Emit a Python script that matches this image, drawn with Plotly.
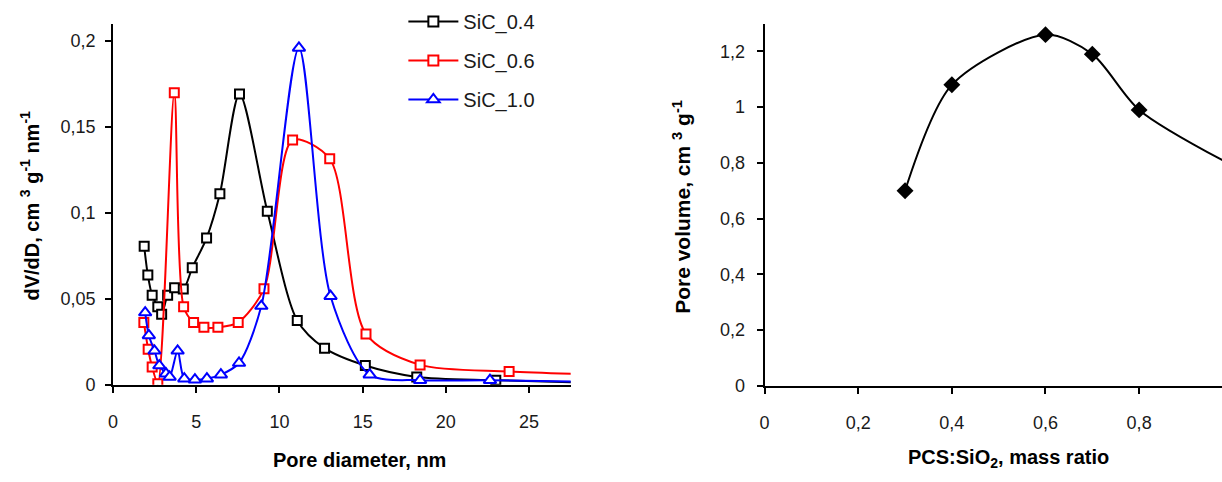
import plotly.graph_objects as go

# ---- Left panel: pore size distributions ----
pore_d_04 = [1.87, 2.09, 2.35, 2.69, 2.92, 3.28, 3.70, 4.22, 4.76, 5.62, 6.42, 7.60, 9.27, 11.07, 12.71, 15.16, 18.25, 23.0, 30.0]
dvdd_04 = [0.0805, 0.0638, 0.052, 0.0454, 0.041, 0.052, 0.0564, 0.0557, 0.068, 0.0853, 0.111, 0.169, 0.1009, 0.0374, 0.0213, 0.0112, 0.0046, 0.0027, 0.0008]

pore_d_06 = [1.85, 2.11, 2.35, 2.69, 3.68, 4.24, 4.84, 5.46, 6.30, 7.52, 9.07, 10.79, 13.02, 15.20, 18.45, 23.8, 30.0]
dvdd_06 = [0.0363, 0.0207, 0.0103, 0.0007, 0.1698, 0.0454, 0.0363, 0.0334, 0.0334, 0.0363, 0.0558, 0.1423, 0.1314, 0.0296, 0.0116, 0.0078, 0.0058]

pore_d_10 = [1.93, 2.15, 2.49, 2.78, 3.18, 3.40, 3.88, 4.28, 4.92, 5.64, 6.48, 7.57, 8.91, 11.17, 13.07, 15.42, 18.45, 22.65, 30.0]
dvdd_10 = [0.042, 0.0287, 0.0198, 0.0112, 0.0065, 0.0046, 0.0198, 0.0036, 0.003, 0.0036, 0.0059, 0.0127, 0.0458, 0.1958, 0.0515, 0.0059, 0.0027, 0.0027, 0.0015]

series_names = ["SiC_0.4", "SiC_0.6", "SiC_1.0"]
series_colors = ["#000000", "#ff0000", "#0000ff"]
series_symbols = ["square", "square", "triangle-up"]

# ---- Right panel: pore volume vs mass ratio ----
mass_ratio = [0.3, 0.4, 0.6, 0.7, 0.8, 1.0]
pore_volume = [0.70, 1.08, 1.26, 1.19, 0.99, 0.79]

W, H = 1222, 482

def px_x(p):
    return p / W

def px_y(p):
    return (H - p) / H

fig = go.Figure()

data_left = [(pore_d_04, dvdd_04), (pore_d_06, dvdd_06), (pore_d_10, dvdd_10)]
for (xs, ys), name, col, sym in zip(data_left, series_names, series_colors, series_symbols):
    msize = 11 if sym == "triangle-up" else 9
    fig.add_trace(go.Scatter(
        x=xs, y=ys, mode="lines+markers", name=name, showlegend=False,
        line=dict(color=col, width=2, shape="spline", smoothing=0.8),
        marker=dict(symbol=sym, size=msize, color="white", line=dict(color=col, width=2)),
        xaxis="x", yaxis="y", cliponaxis=True,
    ))

for name, col, sym in zip(series_names, series_colors, series_symbols):
    msize = 11 if sym == "triangle-up" else 10
    fig.add_trace(go.Scatter(
        x=[None], y=[None], mode="lines+markers", name=name, showlegend=True,
        legendgroup=name,
        line=dict(color=col, width=2),
        marker=dict(symbol=sym, size=msize, color="white", line=dict(color=col, width=2)),
        xaxis="x", yaxis="y",
    ))

fig.add_trace(go.Scatter(
    x=mass_ratio, y=pore_volume, mode="lines+markers", showlegend=False,
    line=dict(color="black", width=2, shape="spline", smoothing=0.8),
    marker=dict(symbol="diamond", size=13, color="black"),
    xaxis="x2", yaxis="y2", cliponaxis=True,
))

FONT = "Liberation Sans, Arial, sans-serif"
tickfont = dict(family=FONT, size=18, color="#1a1a1a")
axis_common = dict(
    showline=True, linecolor="black", linewidth=2, mirror=False,
    ticks="outside", ticklen=6, tickwidth=2, tickcolor="black",
    showgrid=False, zeroline=False, tickfont=tickfont,
)

fig.update_layout(
    width=W, height=H, autosize=False,
    margin=dict(l=0, r=0, t=0, b=0),
    paper_bgcolor="white", plot_bgcolor="white",
    separators=", ",
    xaxis=dict(domain=[px_x(108.5), px_x(568)], range=[0, 27.5], dtick=5, tick0=0,
               anchor="y", ticklabelstandoff=14, **axis_common),
    yaxis=dict(domain=[px_y(393), px_y(24)], range=[0, 0.21], dtick=0.05, tick0=0,
               anchor="x", ticklabelstandoff=6, **axis_common),
    xaxis2=dict(domain=[px_x(762.7), 1.0], range=[0, 0.977], dtick=0.2, tick0=0,
                anchor="y2", ticklabelstandoff=14, **axis_common),
    yaxis2=dict(domain=[px_y(394), px_y(24)], range=[0, 1.3], dtick=0.2, tick0=0,
                anchor="x2", ticklabelstandoff=8, **axis_common),
    legend=dict(
        x=px_x(400), y=px_y(2), xanchor="left", yanchor="top",
        font=dict(family=FONT, size=20, color="#1a1a1a"),
        bgcolor="rgba(0,0,0,0)", tracegroupgap=10, itemwidth=50,
    ),
    showlegend=True,
)

title_font = dict(family=FONT, size=20, color="black")
fig.add_annotation(text="<b>Pore diameter, nm</b>", xref="paper", yref="paper",
                   x=px_x(356), y=px_y(470), showarrow=False, font=title_font,
                   xanchor="center", yanchor="middle")
fig.add_annotation(text="<b>dV/dD, cm <sup>3</sup> g<sup>-1</sup> nm<sup>-1</sup></b>",
                   xref="paper", yref="paper", x=px_x(25), y=px_y(210), textangle=-90,
                   showarrow=False, font=title_font, xanchor="center", yanchor="middle")
fig.add_annotation(text="<b>Pore volume, cm <sup>3</sup> g<sup>-1</sup></b>",
                   xref="paper", yref="paper", x=px_x(679), y=px_y(211), textangle=-90,
                   showarrow=False, font=dict(family=FONT, size=21, color="black"),
                   xanchor="center", yanchor="middle")
fig.add_annotation(text="<b>PCS:SiO<sub>2</sub>, mass ratio</b>", xref="paper", yref="paper",
                   x=px_x(1008), y=px_y(468), showarrow=False, font=title_font,
                   xanchor="center", yanchor="middle")

fig.write_html("out.html", post_script="document.body.style.margin='0';",
               config={"displayModeBar": False})
